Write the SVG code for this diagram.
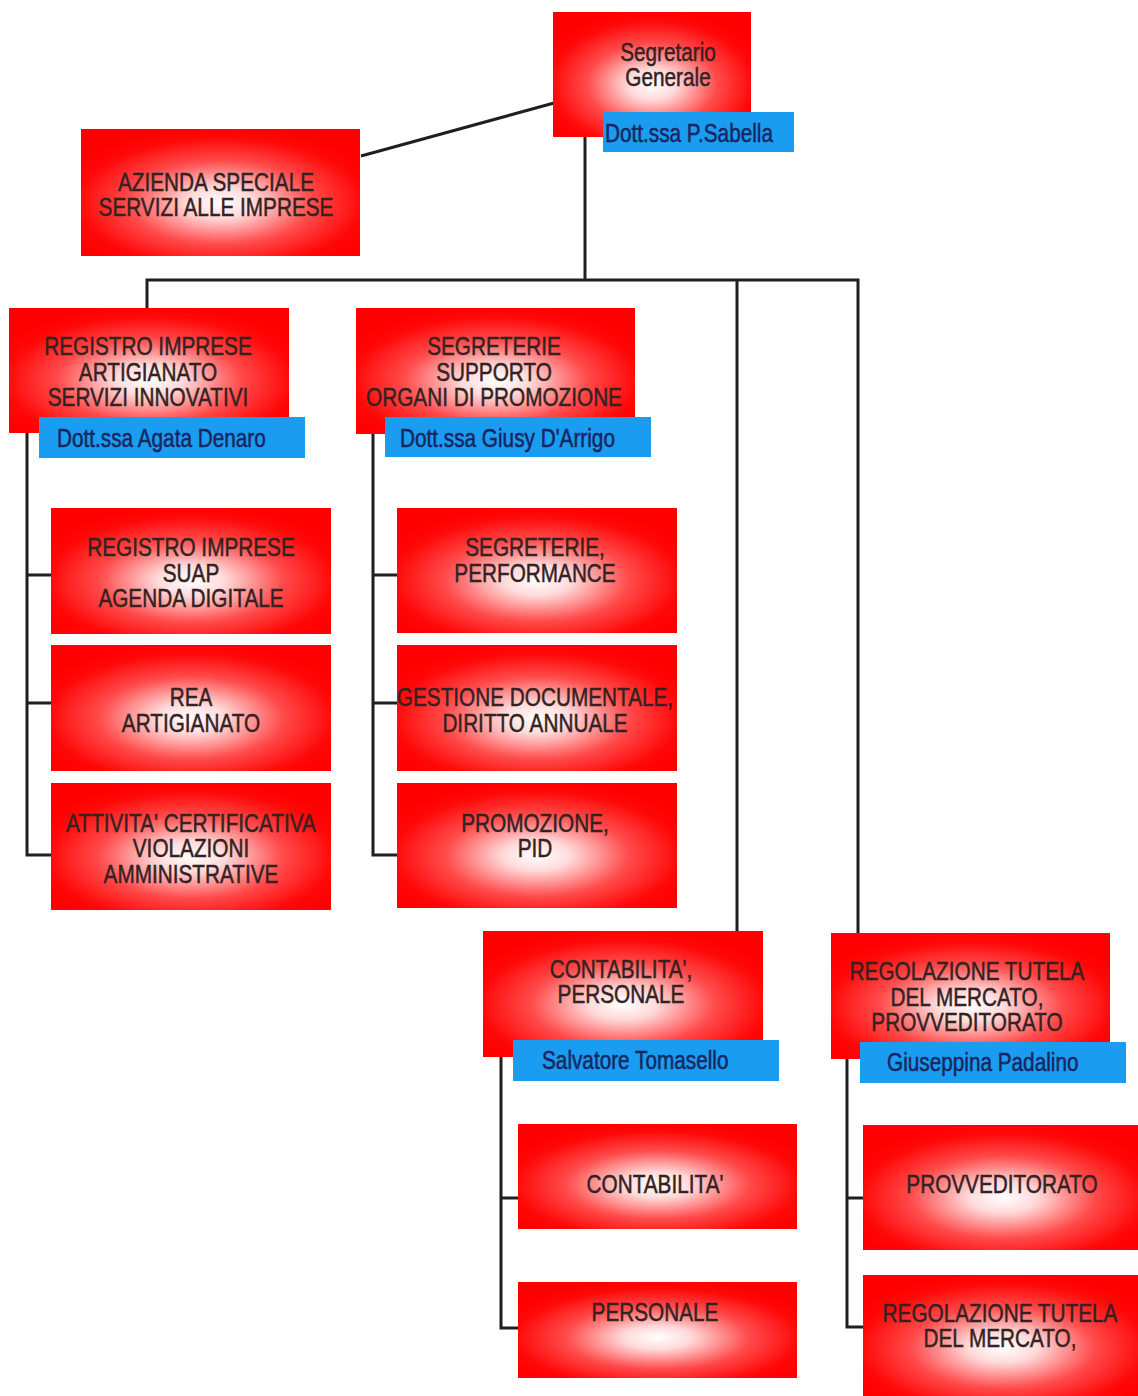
<svg xmlns="http://www.w3.org/2000/svg" width="1138" height="1396" viewBox="0 0 1138 1396">
<defs>
<radialGradient id="rg" cx="50%" cy="58%" r="60%">
<stop offset="0" stop-color="#ffffff"/>
<stop offset="0.2" stop-color="#ffdada"/>
<stop offset="0.55" stop-color="#ff4a4a"/>
<stop offset="0.85" stop-color="#ff0808"/>
<stop offset="1" stop-color="#ff0000"/>
</radialGradient>
<style>
.box{fill:url(#rg);}
.lab{fill:#1a9cf0;}
.t{font-family:"Liberation Sans",Arial,sans-serif;font-size:25px;fill:#342222;stroke:#342222;stroke-width:0.5;text-anchor:middle;}
.b{font-family:"Liberation Sans",Arial,sans-serif;font-size:25px;fill:#182660;stroke:#182660;stroke-width:0.5;}
.c{fill:none;stroke:#1f1f1f;stroke-width:3;}
</style>
</defs>
<rect width="1138" height="1396" fill="#ffffff"/>

<g id="connectors">
<line class="c" x1="361" y1="156" x2="554" y2="103"/>
<line class="c" x1="585" y1="137" x2="585" y2="281"/>
<polyline class="c" points="147,308 147,280 858,280 858,934"/>
<line class="c" x1="737" y1="280" x2="737" y2="932"/>
<polyline class="c" points="27,433 27,855 51,855"/>
<line class="c" x1="27" y1="575" x2="51" y2="575"/>
<line class="c" x1="27" y1="703" x2="51" y2="703"/>
<polyline class="c" points="373,434 373,855 397,855"/>
<line class="c" x1="373" y1="575" x2="397" y2="575"/>
<line class="c" x1="373" y1="703" x2="397" y2="703"/>
<polyline class="c" points="501,1057 501,1328 518,1328"/>
<line class="c" x1="501" y1="1198" x2="518" y2="1198"/>
<polyline class="c" points="847,1059 847,1327 863,1327"/>
<line class="c" x1="847" y1="1198" x2="863" y2="1198"/>
</g>

<g id="segretario">
<rect class="box" x="553" y="12" width="198" height="125"/>
<text class="t" transform="translate(668 0) scale(0.83 1)"><tspan x="0" y="61.5">Segretario</tspan><tspan x="0" y="86">Generale</tspan></text>
<rect class="lab" x="603" y="112" width="191" height="40"/>
<text class="b" transform="translate(605 0) scale(0.83 1)" x="0" y="142">Dott.ssa P.Sabella</text>
</g>

<g id="azienda">
<rect class="box" x="81" y="129" width="279" height="127"/>
<text class="t" transform="translate(216 0) scale(0.83 1)"><tspan x="0" y="191">AZIENDA SPECIALE</tspan><tspan x="0" y="216">SERVIZI ALLE IMPRESE</tspan></text>
</g>

<g id="registro">
<rect class="box" x="9" y="308" width="280" height="125"/>
<text class="t" transform="translate(148 0) scale(0.83 1)"><tspan x="0" y="355">REGISTRO IMPRESE</tspan><tspan x="0" y="381">ARTIGIANATO</tspan><tspan x="0" y="406">SERVIZI INNOVATIVI</tspan></text>
<rect class="lab" x="39" y="417" width="266" height="41"/>
<text class="b" transform="translate(57 0) scale(0.83 1)" x="0" y="447">Dott.ssa Agata Denaro</text>
</g>

<g id="segreterie">
<rect class="box" x="356" y="308" width="279" height="126"/>
<text class="t" transform="translate(494 0) scale(0.83 1)"><tspan x="0" y="355">SEGRETERIE</tspan><tspan x="0" y="381">SUPPORTO</tspan><tspan x="0" y="406">ORGANI DI PROMOZIONE</tspan></text>
<rect class="lab" x="385" y="417" width="266" height="40"/>
<text class="b" transform="translate(400 0) scale(0.83 1)" x="0" y="447">Dott.ssa Giusy D'Arrigo</text>
</g>

<g id="ri-suap">
<rect class="box" x="51" y="508" width="280" height="126"/>
<text class="t" transform="translate(191 0) scale(0.83 1)"><tspan x="0" y="556">REGISTRO IMPRESE</tspan><tspan x="0" y="582">SUAP</tspan><tspan x="0" y="607">AGENDA DIGITALE</tspan></text>
</g>
<g id="rea">
<rect class="box" x="51" y="645" width="280" height="126"/>
<text class="t" transform="translate(191 0) scale(0.83 1)"><tspan x="0" y="706">REA</tspan><tspan x="0" y="732">ARTIGIANATO</tspan></text>
</g>
<g id="certificativa">
<rect class="box" x="51" y="783" width="280" height="127"/>
<text class="t" transform="translate(191 0) scale(0.83 1)"><tspan x="0" y="832">ATTIVITA' CERTIFICATIVA</tspan><tspan x="0" y="857">VIOLAZIONI</tspan><tspan x="0" y="883">AMMINISTRATIVE</tspan></text>
</g>

<g id="performance">
<rect class="box" x="397" y="508" width="280" height="125"/>
<text class="t" transform="translate(535 0) scale(0.83 1)"><tspan x="0" y="556">SEGRETERIE,</tspan><tspan x="0" y="582">PERFORMANCE</tspan></text>
</g>
<g id="gestione">
<rect class="box" x="397" y="645" width="280" height="126"/>
<text class="t" transform="translate(535 0) scale(0.83 1)"><tspan x="0" y="706">GESTIONE DOCUMENTALE,</tspan><tspan x="0" y="732">DIRITTO ANNUALE</tspan></text>
</g>
<g id="promozione">
<rect class="box" x="397" y="783" width="280" height="125"/>
<text class="t" transform="translate(535 0) scale(0.83 1)"><tspan x="0" y="832">PROMOZIONE,</tspan><tspan x="0" y="857">PID</tspan></text>
</g>

<g id="contabilita-personale">
<rect class="box" x="483" y="931" width="280" height="126"/>
<text class="t" transform="translate(621 0) scale(0.83 1)"><tspan x="0" y="978">CONTABILITA',</tspan><tspan x="0" y="1003">PERSONALE</tspan></text>
<rect class="lab" x="513" y="1040" width="266" height="41"/>
<text class="b" transform="translate(542 0) scale(0.83 1)" x="0" y="1069">Salvatore Tomasello</text>
</g>

<g id="regolazione">
<rect class="box" x="831" y="933" width="279" height="126"/>
<text class="t" transform="translate(967 0) scale(0.83 1)"><tspan x="0" y="980">REGOLAZIONE TUTELA</tspan><tspan x="0" y="1006">DEL MERCATO,</tspan><tspan x="0" y="1031">PROVVEDITORATO</tspan></text>
<rect class="lab" x="860" y="1042" width="266" height="41"/>
<text class="b" transform="translate(887 0) scale(0.83 1)" x="0" y="1071">Giuseppina Padalino</text>
</g>

<g id="contabilita">
<rect class="box" x="518" y="1124" width="279" height="105"/>
<text class="t" transform="translate(655 0) scale(0.83 1)" x="0" y="1193">CONTABILITA'</text>
</g>
<g id="personale">
<rect class="box" x="518" y="1282" width="279" height="96"/>
<text class="t" transform="translate(655 0) scale(0.83 1)" x="0" y="1321">PERSONALE</text>
</g>

<g id="provveditorato">
<rect class="box" x="863" y="1125" width="280" height="125"/>
<text class="t" transform="translate(1002 0) scale(0.83 1)" x="0" y="1193">PROVVEDITORATO</text>
</g>
<g id="regolazione-tutela">
<rect class="box" x="863" y="1275" width="280" height="125"/>
<text class="t" transform="translate(1000 0) scale(0.83 1)"><tspan x="0" y="1322">REGOLAZIONE TUTELA</tspan><tspan x="0" y="1347">DEL MERCATO,</tspan></text>
</g>
</svg>
